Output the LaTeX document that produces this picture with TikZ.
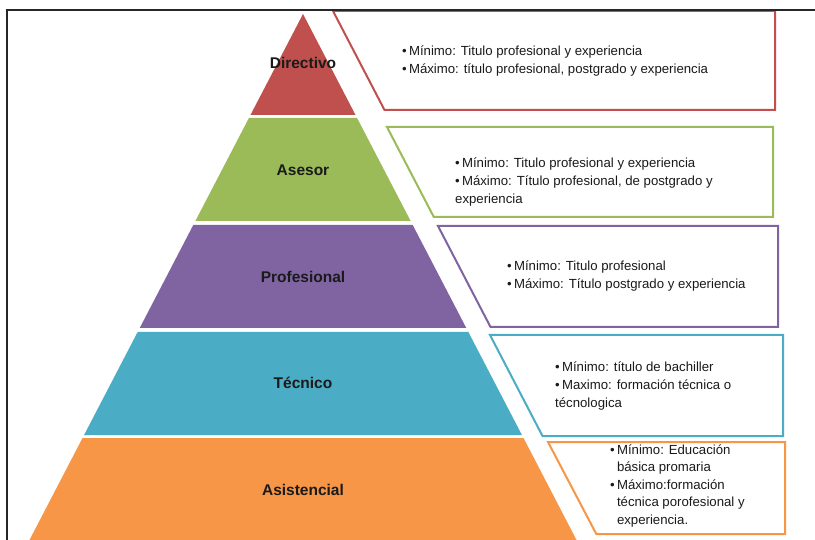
\documentclass[tikz,border=0pt]{standalone}
\usepackage{fontspec}
\setmainfont{Liberation Sans}
\begin{document}
\begin{tikzpicture}[x=1pt,y=-1pt]
  \definecolor{cRed}{HTML}{C0504D}
  \definecolor{cGreen}{HTML}{9BBB59}
  \definecolor{cPurple}{HTML}{8064A2}
  \definecolor{cTeal}{HTML}{4BACC6}
  \definecolor{cOrange}{HTML}{F79646}
  \definecolor{cText}{HTML}{1A1A1A}
  \tikzset{
    level/.style={fill=#1, draw=none},
    infobox/.style={draw=#1, line width=2pt, fill=white, line join=miter},
    levellabel/.style={font=\bfseries\fontsize{15.5}{18}\selectfont, text=cText, inner sep=0pt},
    infotext/.style={font=\fontsize{13.2}{18}\selectfont, text=cText, align=left, anchor=west, inner sep=0pt}
  }
  \useasboundingbox (0,0) rectangle (815,540);
  \clip (0,0) rectangle (815,540);

  % pyramid levels (sides share one slope)
  \fill[level=cRed]    (303,14) -- (355.52,115) -- (250.48,115) -- cycle;
  \fill[level=cGreen]  (248.92,118) -- (357.08,118) -- (410.64,221) -- (195.36,221) -- cycle;
  \fill[level=cPurple] (193.28,225) -- (412.72,225) -- (466.28,328) -- (139.72,328) -- cycle;
  \fill[level=cTeal]   (137.64,332) -- (468.36,332) -- (521.92,435) -- (84.08,435) -- cycle;
  \fill[level=cOrange] (82.52,438) -- (523.52,438) -- (576.52,540) -- (29.48,540) -- cycle;

  \node[levellabel] (dir) at (303,63)  {Directivo};
  \node[levellabel] (ase) at (303,170) {Asesor};
  \node[levellabel] (pro) at (303,277) {Profesional};
  \node[levellabel] (tec) at (303,383) {Técnico};
  \node[levellabel] (asi) at (303,490) {Asistencial};

  % requirement boxes
  \draw[infobox=cRed]    (333,11) -- (775,11) -- (775,110) -- (384.5,110) -- cycle;
  \draw[infobox=cGreen]  (387,127) -- (773,127) -- (773,217) -- (433.8,217) -- cycle;
  \draw[infobox=cPurple] (438,226) -- (778,226) -- (778,327) -- (490.5,327) -- cycle;
  \draw[infobox=cTeal]   (490,335) -- (783,335) -- (783,436) -- (542.5,436) -- cycle;
  \draw[infobox=cOrange] (548,442) -- (785,442) -- (785,534) -- (596.3,534) -- cycle;

  \node[infotext] (tdir) at (402,61) {\textbullet\,Mínimo: Titulo profesional y experiencia\\
    \textbullet\,Máximo: título profesional, postgrado y experiencia};
  \node[infotext] (tase) at (455,182) {\textbullet\,Mínimo: Titulo profesional y experiencia\\
    \textbullet\,Máximo: Título profesional, de postgrado y\\
    experiencia};
  \node[infotext] (tpro) at (507,276) {\textbullet\,Mínimo: Titulo profesional\\
    \textbullet\,Máximo: Título postgrado y experiencia};
  \node[infotext] (ttec) at (555,386) {\textbullet\,Mínimo: título de bachiller\\
    \textbullet\,Maximo: formación técnica o\\
    técnologica};
  \node[infotext, font=\fontsize{13.2}{17.5}\selectfont] (tasi) at (610,486) {\textbullet\,Mínimo: Educación\\
    \hphantom{\textbullet\,}básica promaria\\
    \textbullet\,Máximo:formación\\
    \hphantom{\textbullet\,}técnica porofesional y\\
    \hphantom{\textbullet\,}experiencia.};

  % outer frame
  \draw[line width=1.5pt, black!85] (7,540) -- (7,10) -- (815,10);
\end{tikzpicture}
\end{document}
